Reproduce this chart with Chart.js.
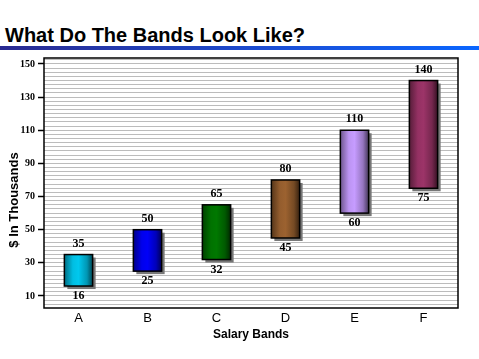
<!DOCTYPE html>
<html>
<head>
<meta charset="utf-8">
<script src="https://cdn.jsdelivr.net/npm/chart.js@4/dist/chart.umd.min.js"></script>
<style>
    body { margin: 0; background: #fff; }
    #wrap { position: relative; width: 479px; height: 359px; }
    #title {
        position: absolute; left: 5px; top: 24px;
        font: bold 20px "Liberation Sans", Arial, sans-serif; color: #000;
        white-space: nowrap;
    }
    #rule {
        position: absolute; left: 0; top: 46px; width: 479px; height: 4px;
        background: linear-gradient(to right, #2a2a90, #1a50d8 60%, #0a66ff);
    }
    canvas { position: absolute; left: 0; top: 0; }
</style>
</head>
<body>
<div id="wrap">
    <div id="title">What Do The Bands Look Like?</div>
    <div id="rule"></div>
    <canvas id="bandsChart" width="479" height="359"></canvas>
</div>
<script>
const bands = ['A', 'B', 'C', 'D', 'E', 'F'];
const bandLow = [16, 25, 32, 45, 60, 75];
const bandHigh = [35, 50, 65, 80, 110, 140];
const yTickLabels = [10, 30, 50, 70, 90, 110, 130, 150];

const bandColors = ['#00c8ee', '#0000f8', '#007800', '#9c6230', '#c69cff', '#9c3468'];

function shade(hex, f) {
    const n = parseInt(hex.slice(1), 16);
    const r = Math.round(((n >> 16) & 255) * f);
    const g = Math.round(((n >> 8) & 255) * f);
    const b = Math.round((n & 255) * f);
    return `rgb(${Math.min(r, 255)}, ${Math.min(g, 255)}, ${Math.min(b, 255)})`;
}

function barBox(el) {
    const p = el.getProps(['x', 'y', 'base', 'width'], true);
    const left = p.x - p.width / 2;
    const top = Math.min(p.y, p.base);
    return { left, top, width: p.width, height: Math.abs(p.base - p.y), x: p.x, bottom: Math.max(p.y, p.base) };
}

const bandPlugin = {
    id: 'bandPlugin',
    beforeDatasetsDraw(chart) {
        const ctx = chart.ctx;
        // shadows
        ctx.save();
        ctx.fillStyle = '#777777';
        chart.getDatasetMeta(0).data.forEach(el => {
            const b = barBox(el);
            ctx.fillRect(b.left + 3, b.top + 3, b.width, b.height);
        });
        ctx.restore();
    },
    afterDatasetsDraw(chart) {
        const ctx = chart.ctx;
        const ds = chart.data.datasets[0];
        ctx.save();
        chart.getDatasetMeta(0).data.forEach((el, i) => {
            const b = barBox(el);
            const c = bandColors[i];
            const g = ctx.createLinearGradient(b.left, 0, b.left + b.width, 0);
            g.addColorStop(0, shade(c, 0.55));
            g.addColorStop(0.3, shade(c, 0.95));
            g.addColorStop(0.5, shade(c, 1.0));
            g.addColorStop(0.8, shade(c, 0.75));
            g.addColorStop(1, shade(c, 0.35));
            ctx.fillStyle = g;
            ctx.fillRect(b.left, b.top, b.width, b.height);
            ctx.strokeStyle = '#000';
            ctx.lineWidth = 1.5;
            ctx.strokeRect(b.left, b.top, b.width, b.height);

            // value labels
            ctx.fillStyle = '#000';
            ctx.font = 'bold 12px "Liberation Serif", "Times New Roman", serif';
            ctx.textAlign = 'center';
            ctx.textBaseline = 'middle';
            ctx.fillText(String(ds.data[i][1]), b.x, b.top - 11);
            ctx.fillText(String(ds.data[i][0]), b.x, b.bottom + 10);
        });
        ctx.restore();
    },
    afterDraw(chart) {
        const ctx = chart.ctx;
        const a = chart.chartArea;
        ctx.save();
        ctx.strokeStyle = '#000';
        ctx.lineWidth = 1.5;
        ctx.strokeRect(a.left, a.top, a.right - a.left, a.bottom - a.top);
        // y axis title
        ctx.translate(14, 200);
        ctx.rotate(-Math.PI / 2);
        ctx.font = 'bold 13px "Liberation Sans", Arial, sans-serif';
        ctx.fillStyle = '#000';
        ctx.textAlign = 'center';
        ctx.textBaseline = 'middle';
        ctx.fillText('$ In Thousands', 0, 0);
        ctx.restore();
    }
};

new Chart(document.getElementById('bandsChart').getContext('2d'), {
    type: 'bar',
    data: {
        labels: bands,
        datasets: [{
            data: bands.map((b, i) => [bandLow[i], bandHigh[i]]),
            backgroundColor: bandColors,
            borderColor: '#000',
            borderWidth: 0,
            borderSkipped: false,
            categoryPercentage: 1,
            barPercentage: 0.41
        }]
    },
    plugins: [bandPlugin],
    options: {
        responsive: false,
        animation: false,
        layout: { padding: { top: 58, right: 21, left: 0, bottom: 0 } },
        plugins: {
            legend: { display: false },
            tooltip: { enabled: false }
        },
        scales: {
            x: {
                grid: { display: false, drawTicks: false },
                border: { display: false },
                ticks: {
                    color: '#000',
                    padding: 3,
                    font: { family: '"Liberation Sans", Arial, sans-serif', size: 13 }
                },
                title: {
                    display: true,
                    text: 'Salary Bands',
                    color: '#000',
                    padding: { top: 0, bottom: 17 },
                    font: { family: '"Liberation Sans", Arial, sans-serif', size: 12, weight: 'bold' }
                },
                afterFit(scale) { scale.height = 51; }
            },
            y: {
                min: 2.75,
                max: 153.6,
                border: { display: false },
                afterBuildTicks(scale) {
                    const t = [];
                    for (let v = 5; v <= 152.5; v += 2.5) t.push({ value: v });
                    scale.ticks = t;
                },
                grid: {
                    color: '#bcbcbc',
                    lineWidth: 1,
                    tickLength: 6,
                    tickColor: ctx => yTickLabels.includes(ctx.tick && ctx.tick.value) ? '#000' : 'rgba(0,0,0,0)',
                    tickWidth: 1.5
                },
                ticks: {
                    color: '#000',
                    padding: 3,
                    autoSkip: false,
                    font: { family: '"Liberation Serif", "Times New Roman", serif', size: 10, weight: 'bold' },
                    callback: v => yTickLabels.includes(v) ? String(v) : ''
                },
                afterFit(scale) { scale.width = 44; }
            }
        }
    }
});
</script>
</body>
</html>
